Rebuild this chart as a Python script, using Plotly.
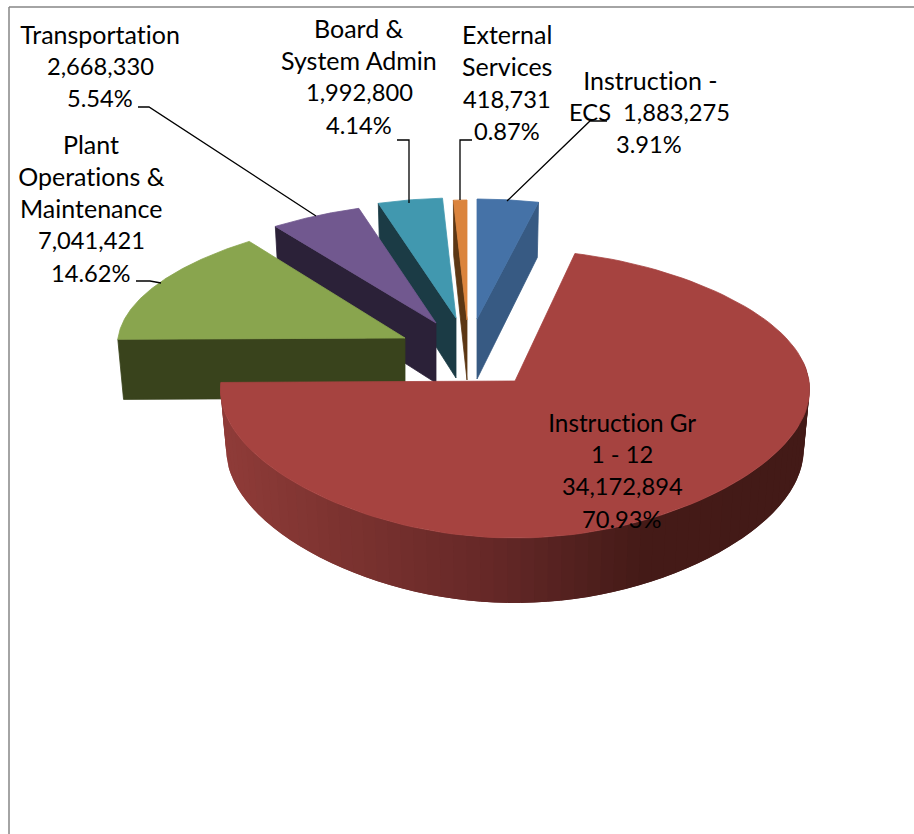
import re
import numpy as np
import plotly.graph_objects as go

# ---- data ----
categories = ["Instruction - ECS", "Instruction Gr 1 - 12", "Plant Operations & Maintenance",
              "Transportation", "Board & System Admin", "External Services"]
values = [1883275, 34172894, 7041421, 2668330, 1992800, 418731]

# ---- label text, line by line ----
label_lines = [
    ["Instruction -", "ECS  1,883,275", "3.91%"],
    ["Instruction Gr", "1 - 12", "34,172,894", "70.93%"],
    ["Plant", "Operations &", "Maintenance", "7,041,421", "14.62%"],
    ["Transportation", "2,668,330", "5.54%"],
    ["Board &", "System Admin", "1,992,800", "4.14%"],
    ["External", "Services", "418,731", "0.87%"],
]

# ---- styling / placement ----
top_colors = ["#4572A7", "#A64340", "#89A54E", "#71588F", "#4198AF", "#DB843D"]
face_colors = ["#375A83", "#A64340", "#39431C", "#2B2138", "#1B3B45", "#5C3714"]
apex = [(477, 319), (515, 381), (405, 338), (436, 323), (456, 318), (467, 320)]
radius = [302, 294, 287, 296, 298, 300]
far_a = [132, 144, 132, 132, 132, 132]
far_b = [12, 13, 12, 12, 12, 12]
label_x = [[650, 649, 649], [622, 622, 622, 622], [91, 91, 91, 91, 91],
           [100, 100, 100], [359, 359, 359, 359], [507, 507, 507, 507]]
label_y = [[80, 112, 144], [422, 454, 486, 519], [144, 176, 208, 240, 273],
           [34, 66, 98], [28, 60, 92, 125], [34, 66, 99, 131]]
leaders = [
    ([607, 590, 507], [121, 121, 201]),
    ([136, 150, 161], [281, 281, 283]),
    ([138, 149, 316], [107, 107, 216]),
    ([397, 409, 409], [140, 140, 203]),
    ([472, 460, 460], [140, 140, 200]),
]
wall_stops = [(219, (0x90, 0x3C, 0x39)), (330, (0x7E, 0x34, 0x31)),
              (500, (0x64, 0x28, 0x27)), (640, (0x45, 0x1B, 0x18)), (809, (0x43, 0x1A, 0x17))]
DEPTH = 60


def project(i, t, z=0.0):
    """Ground-plane angle (clockwise from 12 o'clock) to page position with a light perspective."""
    u, v = np.sin(t), -np.cos(t)
    shrink = 1 + 0.07 * v - 0.1 * v * v
    ax, ay = apex[i]
    x = ax + radius[i] * u * shrink * (1 - 0.02 * z)
    y = ay + v * (far_a[i] + far_b[i] * v) + z * (DEPTH + 5 * v)
    return x, y


def apex_at(i, z=0.0):
    return apex[i][0], apex[i][1] + z * DEPTH


def poly(xs, ys, color, width=0.8):
    xs, ys = list(xs), list(ys)
    return go.Scatter(x=xs + xs[:1], y=ys + ys[:1], mode="lines", fill="toself", fillcolor=color,
                      line=dict(color=color, width=width), hoverinfo="skip", showlegend=False)


def font_size(text):
    if text == "Instruction Gr":
        return 24.3
    return 23.7 if re.search(r"\d", text) else 25


fracs = np.array(values, dtype=float) / sum(values)
edges = np.concatenate([[0.0], np.cumsum(fracs)]) * 2 * np.pi

fig = go.Figure()

# back slices first, red one last: blue, orange, teal, purple, green, red
for i in [0, 5, 4, 3, 2, 1]:
    t0, t1 = edges[i], edges[i + 1]
    ts = np.linspace(t0, t1, 120)
    if i == 0:
        # cut face on the right of the blue slice
        xa, ya = apex_at(i), apex_at(i, 1)
        p0, p1 = project(i, t1), project(i, t1, 1)
        fig.add_trace(poly([xa[0], p0[0], p1[0], ya[0]], [xa[1], p0[1], p1[1], ya[1]], face_colors[i]))
    elif i == 1:
        # curved front wall: overlapping strips shaded left to right, painted right to left
        sts = np.linspace(np.radians(80), t1, 70)
        sx = [s[0] for s in wall_stops]
        for k in range(len(sts) - 1):
            a = sts[k]
            b = sts[-1] if k == len(sts) - 2 else sts[k + 2]
            arc = np.linspace(a, b, 6)
            pxs, pys = project(i, arc)
            qxs, qys = project(i, arc, 1)
            mid = project(i, 0.5 * (sts[k] + sts[k + 1]))[0]
            rgb = [int(np.interp(mid, sx, [s[1][c] for s in wall_stops])) for c in range(3)]
            fig.add_trace(poly(list(pxs) + list(qxs[::-1]), list(pys) + list(qys[::-1]),
                               "rgb(%d,%d,%d)" % tuple(rgb), width=0))
    else:
        # cut face on the left edge of the slice
        xa, ya = apex_at(i), apex_at(i, 1)
        p0, p1 = project(i, t0), project(i, t0, 1)
        fig.add_trace(poly([xa[0], p0[0], p1[0], ya[0]], [xa[1], p0[1], p1[1], ya[1]], face_colors[i]))
    px, py = project(i, ts)
    fig.add_trace(poly([apex[i][0]] + list(px), [apex[i][1]] + list(py), top_colors[i]))

# leader lines
for lx, ly in leaders:
    fig.add_trace(go.Scatter(x=lx, y=ly, mode="lines", line=dict(color="#000000", width=1.3),
                             hoverinfo="skip", showlegend=False))

# labels
for lines, xs, ys in zip(label_lines, label_x, label_y):
    for text, x, y in zip(lines, xs, ys):
        fig.add_annotation(x=x, y=y, text=text, showarrow=False, xanchor="center", yanchor="middle",
                           font=dict(family="Lato", size=font_size(text), color="#000000"))

# chart frame (open at the right and bottom, cropped by the page)
fig.add_shape(type="line", x0=9, x1=9, y0=7, y1=834, line=dict(color="#868686", width=1.5))
fig.add_shape(type="line", x0=9, x1=914, y0=7, y1=7, line=dict(color="#868686", width=1.5))

fig.update_layout(
    width=914, height=834, margin=dict(l=0, r=0, t=0, b=0),
    paper_bgcolor="#FFFFFF", plot_bgcolor="#FFFFFF", showlegend=False,
    xaxis=dict(range=[0, 914], visible=False, fixedrange=True),
    yaxis=dict(range=[834, 0], visible=False, fixedrange=True),
)
fig.write_html("out.html", config=dict(displayModeBar=False),
               post_script="document.body.style.margin='0';document.body.style.overflow='hidden';"
                           "var s=document.createElement('style');"
                           "s.textContent='svg text{font-variant-ligatures:none !important;"
                           "font-feature-settings:\"liga\" 0,\"clig\" 0,\"dlig\" 0 !important;"
                           "text-rendering:optimizeSpeed !important}';"
                           "document.head.appendChild(s);")
